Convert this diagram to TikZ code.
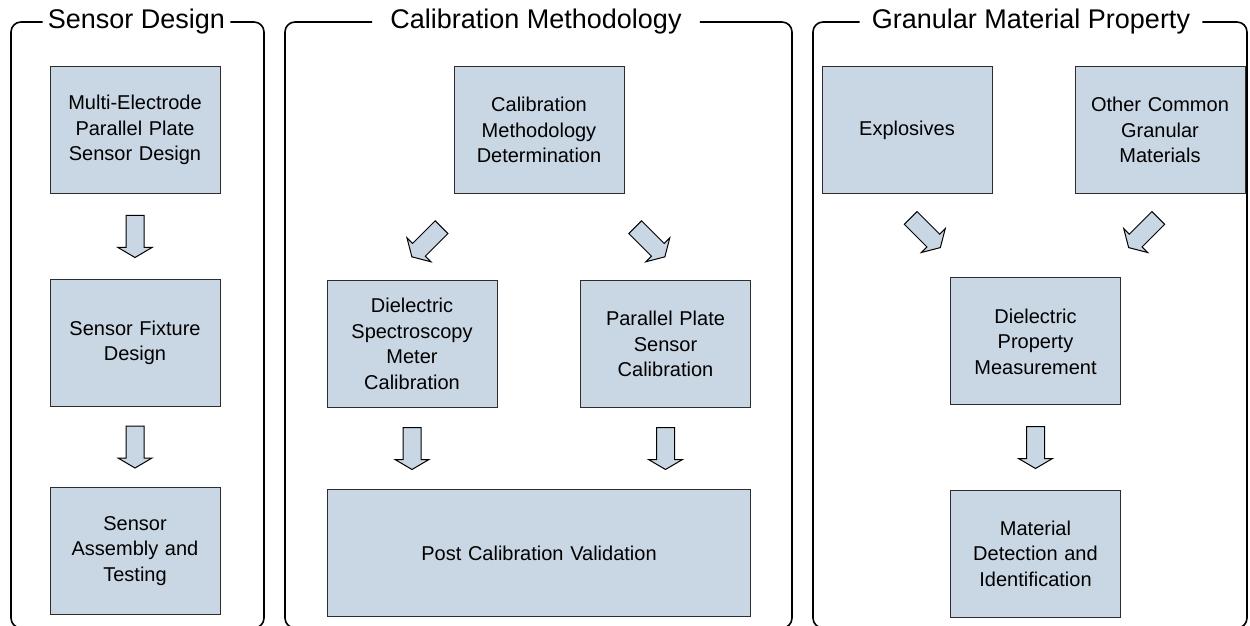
\documentclass[tikz,border=0pt]{standalone}
\usepackage{fontspec}
\setmainfont{Liberation Sans}
\usepackage{tikz}
\usetikzlibrary{calc,positioning}
\definecolor{boxblue}{RGB}{201,214,228}
\definecolor{boxline}{RGB}{45,45,45}
\tikzstyle{block} = [rectangle, draw=boxline, line width=0.5pt, fill=boxblue, text width=80pt, inner xsep=2.5pt, align=center, minimum height=63.5pt, font=\fontsize{10}{12.8}\selectfont]
\tikzstyle{frame} = [draw, line width=0.8pt, rounded corners=5pt]
\tikzstyle{grouptitle} = [font=\fontsize{13.5}{16}\selectfont, inner ysep=0pt]
\tikzset{blockarrow/.pic={\draw[draw=black, line width=0.5pt, fill=boxblue] (-21,-9) -- (11,-9) -- (11,-17) -- (21,0) -- (11,17) -- (11,9) -- (-21,9) -- cycle;}}

\begin{document}
\begin{tikzpicture}[x=0.5pt,y=-0.5pt]
      \useasboundingbox (0,0) rectangle (1250,626);
      % sensor design
      \node[grouptitle, inner xsep=2.5pt] (SensorTitle) at (136.5,22) {Sensor Design};
      \draw[frame] (SensorTitle.east) -| (264,628) -| (11,22) -- (SensorTitle.west);
      \node[block] (MultiElectrode) at (135,130) {Multi-Electrode\\Parallel Plate\\Sensor Design};
      \node[block,below=42.5pt of MultiElectrode] (SensorFixture) {Sensor Fixture\\Design};
      \node[block,below=40pt of SensorFixture] (SensorAssembly) {Sensor\\Assembly and\\Testing};
      \pic[rotate=-90] at ($(MultiElectrode.south)!0.5!(SensorFixture.north)$) {blockarrow};
      \pic[rotate=-90] at ($(SensorFixture.south)!0.5!(SensorAssembly.north)$) {blockarrow};
      %
      % calibration methodology
      \node[grouptitle, inner xsep=9pt] (CalibTitle) at (536,22) {Calibration Methodology};
      \draw[frame] (CalibTitle.east) -| (792,628) -| (285,22) -- (CalibTitle.west);
      \node[block] (CalibDetermination) at (539,130) {Calibration\\Methodology\\Determination};
      \node[block] (MeterCalib) at (412,344) {Dielectric\\Spectroscopy\\Meter\\Calibration};
      \node[block] (PlateCalib) at (665.5,344) {Parallel Plate\\Sensor\\Calibration};
      \node[block,text width=206.5pt,below=40.5pt of CalibDetermination |- MeterCalib.south] (PostValidation) {Post Calibration Validation};
      \pic[rotate=-135] at ($(CalibDetermination.south west)!0.5!(MeterCalib.north)+(-6,5)$) {blockarrow};
      \pic[rotate=-45] at ($(CalibDetermination.south east)!0.5!(PlateCalib.north)+(5,5)$) {blockarrow};
      \pic[rotate=-90] at ($(MeterCalib.south)!0.5!(MeterCalib.south |- PostValidation.north)$) {blockarrow};
      \pic[rotate=-90] at ($(PlateCalib.south)!0.5!(PlateCalib.south |- PostValidation.north)$) {blockarrow};
      %
      % granular material property
      \node[grouptitle, inner xsep=6pt] (GranularTitle) at (1031,22) {Granular Material Property};
      \draw[frame] (GranularTitle.east) -| (1247,628) -| (813,22) -- (GranularTitle.west);
      \node[block] (Explosives) at (907,130) {Explosives};
      \node[block] (OtherMaterials) at (1160,130) {Other Common\\Granular\\Materials};
      \node[block] (PropertyMeasurement) at (1035.5,341.5) {Dielectric\\Property\\Measurement};
      \node[block,below=42pt of PropertyMeasurement] (MaterialDetection) {Material\\Detection and\\Identification};
      \pic[rotate=-45] at ($(Explosives.south)!0.5!(PropertyMeasurement.north west)+(-3,-3)$) {blockarrow};
      \pic[rotate=-135] at ($(OtherMaterials.south)!0.5!(PropertyMeasurement.north east)+(3,-3)$) {blockarrow};
      \pic[rotate=-90] at ($(PropertyMeasurement.south)!0.5!(MaterialDetection.north)$) {blockarrow};
\end{tikzpicture}
\end{document}
